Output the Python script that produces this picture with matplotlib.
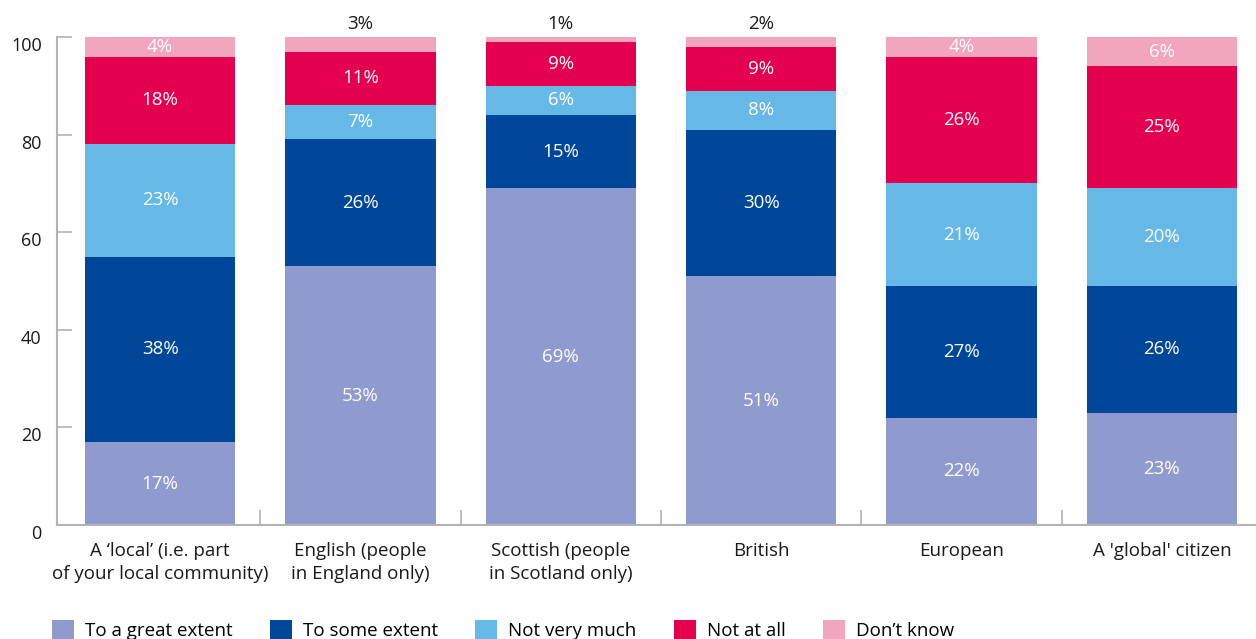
import matplotlib
matplotlib.use("Agg")
import matplotlib.pyplot as plt
import matplotlib.transforms as mtransforms
import numpy as np

# categories and answer shares (percent)
categories = [
    "A \u2018local\u2019 (i.e. part\nof your local community)",
    "English (people\nin England only)",
    "Scottish (people\nin Scotland only)",
    "British",
    "European",
    "A 'global' citizen",
]
series_names = ["To a great extent", "To some extent", "Not very much",
                "Not at all", "Don\u2019t know"]
great_extent = [17, 53, 69, 51, 22, 23]
some_extent = [38, 26, 15, 30, 27, 26]
not_very_much = [23, 7, 6, 8, 21, 20]
not_at_all = [18, 11, 9, 9, 26, 25]
dont_know = [4, 3, 1, 2, 4, 6]

colors = ["#8f9bcf", "#00479a", "#66b8e6", "#e4004f", "#f2a6bd"]

plt.rcParams["font.family"] = ["Open Sans", "DejaVu Sans"]

fig = plt.figure(figsize=(12.56, 6.39), dpi=100)
ax = fig.add_axes([57 / 1256, 114 / 639, 1 - 57 / 1256, 488 / 639])

x = np.arange(len(categories))
bottom = np.zeros(len(categories))
all_series = [great_extent, some_extent, not_very_much, not_at_all, dont_know]
for name, values, color in zip(series_names, all_series, colors):
    values = np.array(values, dtype=float)
    ax.bar(x, values, 0.75, bottom=bottom, color=color, label=name, zorder=2)
    for xi, b, v in zip(x, bottom, values):
        if v < 4:
            # thin segments get their label above the bar
            ax.text(xi, b + v + 0.8, f"{v:.0f}%", ha="center", va="bottom",
                    fontsize=13.5, color="#1a1a1a")
        else:
            ax.text(xi, b + v / 2, f"{v:.0f}%", ha="center", va="center",
                    fontsize=13.5, color="white")
    bottom += values

ax.set_xlim(-0.515, 5.47)
ax.set_ylim(0, 100)

ax.set_yticks([0, 20, 40, 60, 80, 100])
ax.tick_params(axis="y", direction="in", length=11, width=1.2, color="#b3b3b3",
               labelsize=13, pad=11, labelcolor="#1a1a1a")
offset = mtransforms.ScaledTranslation(0, -0.07, fig.dpi_scale_trans)
for lbl in ax.get_yticklabels():
    lbl.set_transform(lbl.get_transform() + offset)

ax.set_xticks(x)
ax.set_xticklabels(categories, fontsize=13.5, color="#1a1a1a", linespacing=1.35)
ax.set_xticks(x[:-1] + 0.5, minor=True)
ax.tick_params(axis="x", which="major", length=0, pad=12)
ax.tick_params(axis="x", which="minor", direction="in", length=11, width=1.2,
               color="#b3b3b3")

for side in ["top", "right"]:
    ax.spines[side].set_visible(False)
for side in ["left", "bottom"]:
    ax.spines[side].set_color("#b3b3b3")
    ax.spines[side].set_linewidth(1.5)

fig.legend(loc="center left", bbox_to_anchor=(52 / 1256, 9 / 639), ncol=5,
           frameon=False, fontsize=13.5, handlelength=1.15, handleheight=1.15,
           handletextpad=0.6, columnspacing=2.0, borderpad=0, borderaxespad=0)

fig.savefig("out.png", dpi=100)
